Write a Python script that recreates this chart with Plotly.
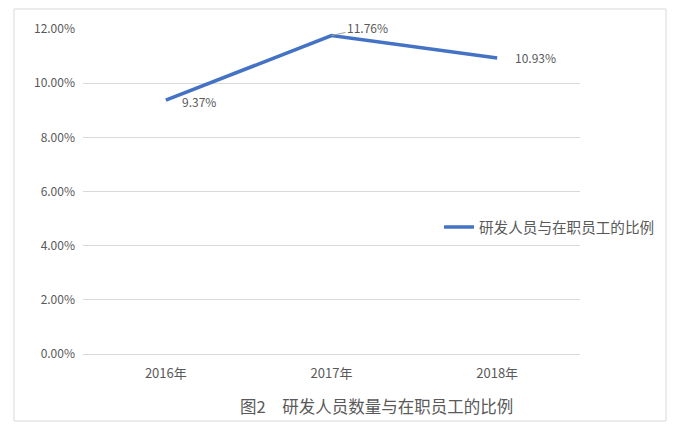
import plotly.graph_objects as go

years = ["2016年", "2017年", "2018年"]
ratio = [9.37, 11.76, 10.93]
series_name = "研发人员与在职员工的比例"
caption = "图2　研发人员数量与在职员工的比例"

W, H = 684, 430
OFF = 8  # page body margin shifts the figure
L, T = 83 - OFF, 29 - OFF
pw, ph = 497, 325
R, B = W - L - pw, H - T - ph


def px_x(x):
    return (x - OFF - L) / pw


def px_y(y):
    return (T + ph - (y - OFF)) / ph


gray = "#595959"
font = "Noto Sans CJK SC, Liberation Sans, sans-serif"

fig = go.Figure()
fig.add_trace(go.Scatter(
    x=years, y=ratio, mode="lines", name=series_name,
    line=dict(color="#4472C4", width=3.5),
))

# data labels
offsets = [(14, -1), (16, 7), (16, 0)]
for i, (yr, v) in enumerate(zip(years, ratio)):
    dx, dy = offsets[i]
    if i == 1:
        fig.add_annotation(
            x=yr, y=v, text=f"{v:.2f}%", showarrow=True, arrowhead=0,
            arrowwidth=1, arrowcolor="#A6A6A6", ax=36, ay=-8,
            font=dict(size=12, color=gray, family=font),
        )
    else:
        fig.add_annotation(
            x=yr, y=v, text=f"{v:.2f}%", showarrow=False,
            xanchor="left", xshift=dx, yshift=dy,
            font=dict(size=12, color=gray, family=font),
        )

fig.add_annotation(
    xref="paper", yref="paper", x=px_x(376), y=px_y(406),
    xanchor="center", yanchor="middle",
    text=caption, showarrow=False,
    font=dict(size=16.5, color=gray, family=font),
)

# outer chart border
fig.add_shape(
    type="rect", xref="paper", yref="paper",
    x0=px_x(14), x1=px_x(666), y0=px_y(421), y1=px_y(9),
    line=dict(color="#D9D9D9", width=1), layer="below",
)

fig.update_layout(
    width=W, height=H,
    margin=dict(l=L, r=R, t=T, b=B),
    paper_bgcolor="white", plot_bgcolor="white",
    font=dict(family=font, color=gray, size=12),
    showlegend=True,
    legend=dict(
        x=px_x(439), y=px_y(227), xanchor="left", yanchor="middle",
        bgcolor="rgba(0,0,0,0)", font=dict(size=14.6, color=gray, family=font),
    ),
    xaxis=dict(
        type="category", range=[-0.5, 2.5], showgrid=False, showline=False,
        ticks="", ticklabelstandoff=10,
        tickfont=dict(size=13, color=gray),
    ),
    yaxis=dict(
        range=[0, 12], dtick=2, tickformat=".2f", ticksuffix="%",
        gridcolor="#D9D9D9", gridwidth=1, zeroline=True,
        zerolinecolor="#D9D9D9", zerolinewidth=1, showline=False,
        ticklabelstandoff=7, tickfont=dict(size=12, color=gray),
    ),
)

fig.write_html("out.html")
